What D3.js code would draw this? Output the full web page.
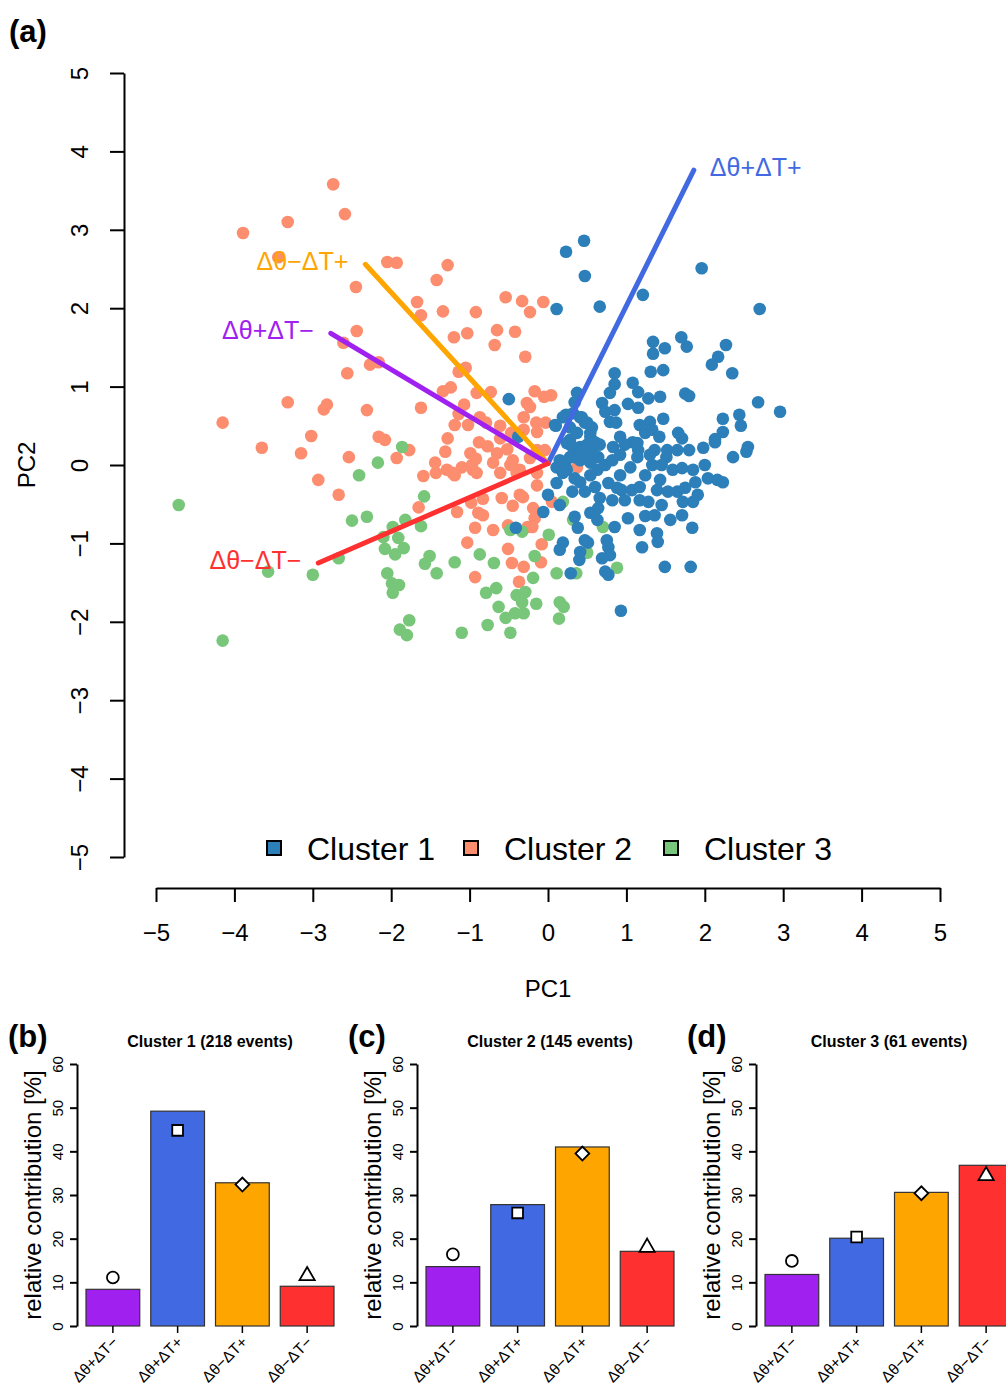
<!DOCTYPE html>
<html>
<head>
<meta charset="utf-8">
<script src="https://cdn.jsdelivr.net/npm/d3@7"></script>
<style>
  body { margin: 0; background: #fff; }
  text { font-family: "Liberation Sans", Arial, Helvetica, sans-serif; }
</style>
</head>
<body>
<div id="chart"></div>
<script>
// ---- data ----
const clusterNames = ["Cluster 1", "Cluster 2", "Cluster 3"];
const clusterColors = ["#2c7fb8", "#fc8d6f", "#78c679"];

// PC1 / PC2 scores per cluster
const cluster1Pts = [
  [0.46,2.86],[0.23,2.72],[0.47,2.41],[0.11,1.99],[0.66,2.02],[1.21,2.17],[1.96,2.51],[2.70,1.99],
  [1.34,1.57],[1.34,1.42],[1.49,1.49],[1.70,1.63],[1.77,1.51],[2.27,1.53],[2.09,1.28],[2.17,1.38],
  [2.35,1.17],[1.31,1.19],[1.47,1.21],[0.85,1.17],[0.85,1.03],[0.79,0.92],[1.08,1.05],[1.15,0.93],
  [1.28,0.85],[1.43,0.87],[1.75,0.91],[1.80,0.88],[2.68,0.80],[2.96,0.68],[0.37,0.92],[0.34,0.80],
  [0.69,0.79],[0.73,0.68],[0.85,0.70],[0.79,0.55],[0.87,0.54],[1.02,0.78],[1.15,0.73],[0.23,0.64],
  [0.41,0.61],[0.47,0.54],[0.10,0.50],[1.47,0.59],[2.23,0.59],[2.44,0.64],[2.46,0.50],[2.23,0.42],
  [2.13,0.33],[1.30,0.55],[1.17,0.51],[1.24,0.41],[1.33,0.45],[1.66,0.41],[1.71,0.34],[1.42,0.36],
  [0.28,0.32],[0.37,0.41],[0.54,0.41],[0.41,0.23],[0.83,0.23],[0.92,0.36],[1.08,0.29],[1.15,0.19],
  [1.36,0.19],[1.52,0.19],[1.65,0.19],[1.80,0.19],[1.98,0.22],[2.55,0.23],[2.53,0.17],[2.36,0.10],
  [0.28,0.26],[0.50,0.26],[0.34,0.10],[0.54,0.13],[0.64,0.10],[0.22,0.03],[0.19,-0.10],[0.98,0.26],
  [1.14,0.28],[0.92,0.13],[1.14,0.10],[1.05,-0.03],[0.92,-0.13],[0.77,-0.23],[0.88,-0.29],[1.51,0.10],
  [2.13,0.29],[1.33,0.00],[1.45,0.00],[1.59,-0.06],[1.71,-0.04],[1.85,-0.06],[1.88,-0.22],[2.16,-0.19],
  [2.23,-0.22],[0.11,-0.23],[0.31,-0.34],[0.41,-0.22],[0.47,-0.34],[0.60,-0.28],[0.66,-0.42],[0.94,-0.32],
  [1.07,-0.32],[1.17,-0.28],[0.98,-0.45],[1.17,-0.45],[1.39,-0.32],[1.53,-0.34],[1.65,-0.34],[1.75,-0.29],
  [1.72,-0.47],[1.85,-0.47],[1.91,-0.38],[1.28,-0.47],[1.45,-0.51],[-0.06,-0.60],[0.34,-0.66],[0.54,-0.61],
  [0.64,-0.55],[0.63,-0.70],[0.85,-0.79],[1.02,-0.68],[1.24,-0.65],[0.38,-0.80],[1.17,-0.83],[1.39,-0.87],
  [1.40,-0.98],[1.20,-1.05],[1.84,-0.80],[1.71,-0.64],[0.19,-0.99],[0.15,-1.08],[0.41,-1.11],[0.51,-0.99],
  [0.47,-0.96],[0.75,-0.96],[0.77,-1.05],[0.79,-1.15],[0.69,-1.19],[0.40,-1.21],[0.73,-1.36],[0.77,-1.40],
  [0.29,-1.38],[1.49,-1.30],[1.82,-1.30],[0.93,-1.86],[-0.41,-0.80],[-0.50,0.84],[-0.38,0.36],[0.09,0.51],
  [0.19,0.61],[0.32,0.66],[0.43,0.61],[0.50,0.54],[0.56,0.48],[0.28,0.48],[0.54,0.36],[0.60,0.29],
  [0.24,0.28],[0.32,0.23],[0.45,0.19],[0.57,0.15],[0.15,0.06],[0.28,0.10],[0.41,0.06],[0.54,0.03],
  [0.63,-0.06],[0.11,-0.03],[0.24,-0.06],[0.73,0.00],[0.82,0.06],[1.24,-0.13],[1.43,-0.19],[2.00,0.00],
  [2.04,-0.17],[0.66,0.26],[1.30,0.13],[0.34,-0.17],[0.54,-0.13],[0.00,-0.38],[0.15,-0.51],[0.82,-0.45],
  [1.36,-0.64],[1.56,-0.70]
];
const cluster2Pts = [
  [-2.74,3.58],[-2.59,3.20],[-3.32,3.10],[-3.89,2.96],[-3.44,2.65],[-2.05,2.59],[-1.93,2.58],[-2.45,2.27],
  [-1.42,2.36],[-1.28,2.55],[-1.67,2.08],[-1.62,1.91],[-1.34,1.96],[-0.92,1.95],[-0.54,2.14],[-0.33,2.09],
  [-0.23,1.95],[-0.06,2.08],[-0.65,1.72],[-0.42,1.70],[-1.20,1.63],[-1.03,1.68],[-0.68,1.53],[-0.29,1.38],
  [-1.05,1.24],[-1.14,1.19],[-2.44,1.71],[-2.61,1.56],[-2.27,1.28],[-2.16,1.31],[-2.56,1.17],[-3.32,0.80],
  [-2.82,0.77],[-2.86,0.71],[-2.31,0.70],[-4.15,0.54],[-1.62,0.73],[-1.34,0.94],[-1.24,0.99],[-1.07,0.77],
  [-0.91,0.92],[-0.73,0.93],[-0.17,0.94],[-0.05,0.87],[0.04,0.89],[-0.27,0.79],[-0.23,0.74],[-1.14,0.65],
  [-0.87,0.61],[-1.19,0.51],[-1.02,0.51],[-0.79,0.54],[-0.61,0.50],[-0.31,0.61],[-0.15,0.54],[-0.03,0.54],
  [-1.28,0.34],[-0.88,0.29],[-0.77,0.24],[-0.61,0.34],[-0.47,0.41],[-0.31,0.45],[-0.14,0.42],[-1.31,0.17],
  [-0.99,0.15],[-0.92,0.08],[-0.65,0.15],[-0.52,0.20],[-0.45,0.06],[-0.23,0.09],[-1.44,0.03],[-1.59,-0.14],
  [-1.43,-0.10],[-1.22,-0.10],[-0.96,-0.06],[-0.70,0.03],[-0.61,-0.10],[-0.36,-0.06],[-0.14,-0.10],[0.37,-0.03],
  [-1.10,-0.03],[-1.29,-0.06],[-1.19,-0.13],[-0.97,0.00],[-0.91,-0.10],[-0.48,0.00],[-0.40,-0.10],[-0.14,-0.26],
  [-1.16,-0.60],[-1.65,-0.54],[-0.98,-0.48],[-0.83,-0.43],[-0.89,-0.61],[-0.83,-0.64],[-0.59,-0.42],[-0.45,-0.52],
  [-0.36,-0.38],[-0.32,-0.41],[-0.19,-0.55],[-0.17,-0.68],[0.05,-0.47],[-0.93,-0.80],[-0.70,-0.83],[-0.51,-0.77],
  [-0.26,-0.79],[-1.03,-0.99],[-0.51,-1.07],[-0.08,-1.01],[-0.46,-1.25],[-0.31,-1.30],[-0.09,-1.24],[-0.93,-1.43],
  [-0.37,-1.49],[-3.02,0.37],[-3.65,0.22],[-3.15,0.15],[-2.54,0.10],[-2.16,0.36],[-2.08,0.32],[-1.93,0.09],
  [-2.93,-0.19],[-2.67,-0.38],[-1.77,0.19],[-0.14,0.19],[-0.04,0.19],[-0.20,-0.79]
];
const cluster3Pts = [
  [-4.71,-0.51],[-4.15,-2.24],[-3.57,-1.36],[-3.00,-1.40],[-2.67,-1.19],[-2.50,-0.71],[-2.31,-0.66],[-2.41,-0.13],
  [-2.17,0.03],[-1.86,0.23],[-2.10,-0.92],[-1.98,-0.79],[-1.82,-0.70],[-1.91,-0.93],[-2.08,-1.07],[-1.95,-1.14],
  [-1.84,-1.06],[-2.05,-1.38],[-1.99,-1.51],[-1.90,-1.53],[-1.98,-1.63],[-1.77,-1.98],[-1.89,-2.10],[-1.80,-2.17],
  [-1.58,-0.40],[-1.62,-0.78],[-1.51,-1.16],[-1.57,-1.26],[-1.42,-1.38],[-1.19,-1.24],[-0.87,-1.14],[-0.69,-1.25],
  [-0.48,-0.83],[-0.33,-0.85],[0.01,-0.89],[-0.17,-1.16],[0.11,-1.38],[-0.19,-1.44],[-0.79,-1.63],[-0.66,-1.57],
  [-0.63,-1.81],[-0.54,-1.95],[-0.40,-1.66],[-0.29,-1.62],[-0.33,-1.75],[-0.42,-1.89],[-0.31,-1.89],[-0.15,-1.77],
  [0.15,-1.75],[0.20,-1.81],[0.14,-1.96],[-0.77,-2.04],[-0.48,-2.14],[-1.10,-2.14],[0.19,-0.47],[0.32,-0.70],
  [0.70,-0.79],[0.50,-1.12],[0.36,-1.38],[0.88,-1.31]
];

// loading vectors
const loadingNames = ["Δθ+ΔT+", "Δθ−ΔT+", "Δθ+ΔT−", "Δθ−ΔT−"];
const loadingPC1 = [1.86, -2.33, -2.77, -2.93];
const loadingPC2 = [3.76, 2.56, 1.68, -1.25];
const loadingColors = ["#4169e1", "#ffa500", "#a020f0", "#ff3030"];

const axisTicks = [-5, -4, -3, -2, -1, 0, 1, 2, 3, 4, 5];

// bar panels
const barCategories = ["Δθ+ΔT−", "Δθ+ΔT+", "Δθ−ΔT+", "Δθ−ΔT−"];
const barColors = ["#a020f0", "#4169e1", "#ffa500", "#ff3030"];
const panelTitles = ["Cluster 1 (218 events)", "Cluster 2 (145 events)", "Cluster 3 (61 events)"];
const panelLetters = ["(b)", "(c)", "(d)"];
const barValues1 = [8.4, 49.2, 32.8, 9.1];
const barValues2 = [13.6, 27.8, 41.0, 17.1];
const barValues3 = [11.8, 20.1, 30.6, 36.8];
const markerValues1 = [11.1, 44.8, 32.4, 11.5];
const markerValues2 = [16.4, 25.9, 39.5, 18.0];
const markerValues3 = [14.9, 20.4, 30.4, 34.4];
const barTicks = [0, 10, 20, 30, 40, 50, 60];

const minus = d => d < 0 ? "\u2212" + Math.abs(d) : String(d);

const W = 1006, H = 1386;
const svg = d3.select("#chart").append("svg")
  .attr("width", W).attr("height", H);

// ---------- panel (a): PCA biplot ----------
const x = d3.scaleLinear().domain([-5, 5]).range([156, 940]);
const y = d3.scaleLinear().domain([-5, 5]).range([857, 73]);

svg.append("text").attr("x", 9).attr("y", 42)
  .attr("font-size", 31).attr("font-weight", "bold").text("(a)");

// y axis
const gy = svg.append("g").attr("transform", "translate(124,0)")
  .call(d3.axisLeft(y).tickValues(axisTicks).tickSize(14).tickSizeOuter(0).tickFormat(minus));
gy.selectAll("text")
  .attr("x", null).attr("dy", null)
  .attr("transform", "translate(-36,0) rotate(-90)")
  .attr("text-anchor", "middle").attr("font-size", 24).attr("fill", "#000");

// x axis
const gx = svg.append("g").attr("transform", "translate(0,888)")
  .call(d3.axisBottom(x).tickValues(axisTicks).tickSize(14).tickSizeOuter(0).tickFormat(minus));
gx.selectAll("text").attr("y", 53).attr("dy", null)
  .attr("font-size", 24).attr("fill", "#000");

[gx, gy].forEach(g => {
  g.selectAll("path, line").attr("stroke", "#000").attr("stroke-width", 2);
  g.selectAll("text").attr("font-family", "Liberation Sans, Arial, sans-serif");
});

svg.append("text").attr("x", 548).attr("y", 997)
  .attr("text-anchor", "middle").attr("font-size", 24).text("PC1");
svg.append("text").attr("transform", "translate(35,465) rotate(-90)")
  .attr("text-anchor", "middle").attr("font-size", 24).text("PC2");

// points: cluster 2, cluster 3, then cluster 1 on top
const ptGroups = [[cluster2Pts, 1], [cluster3Pts, 2], [cluster1Pts, 0]];
ptGroups.forEach(([pts, ci]) => {
  svg.append("g").selectAll("circle")
    .data(pts).enter().append("circle")
    .attr("cx", d => x(d[0]))
    .attr("cy", d => y(d[1]))
    .attr("r", 6.3)
    .attr("fill", clusterColors[ci]);
});

// loading arrows
const loadings = loadingNames.map((n, i) => ({ name: n, pc1: loadingPC1[i], pc2: loadingPC2[i], color: loadingColors[i] }));
svg.append("g").selectAll("line")
  .data(loadings).enter().append("line")
  .attr("x1", x(0)).attr("y1", y(0.02))
  .attr("x2", d => x(d.pc1)).attr("y2", d => y(d.pc2))
  .attr("stroke", d => d.color).attr("stroke-width", 5)
  .attr("stroke-linecap", "round");
svg.append("g").selectAll("text")
  .data(loadings).enter().append("text")
  .attr("x", d => x(d.pc1) + (d.pc1 > 0 ? 16 : -17))
  .attr("y", d => y(d.pc2) - 3)
  .attr("dy", "0.35em")
  .attr("text-anchor", d => d.pc1 > 0 ? "start" : "end")
  .attr("font-size", 25)
  .attr("fill", d => d.color)
  .text(d => d.name);

// legend
const legendX = [274, 471, 671];
const legend = svg.append("g").selectAll("g")
  .data(clusterNames).enter().append("g")
  .attr("transform", (d, i) => `translate(${legendX[i]},848)`);
legend.append("rect").attr("x", -7).attr("y", -7).attr("width", 14).attr("height", 14)
  .attr("fill", (d, i) => clusterColors[i]).attr("stroke", "#000").attr("stroke-width", 2);
legend.append("text").attr("x", 33).attr("y", 12)
  .attr("font-size", 32).text(d => d);

// ---------- panels (b)-(d): bar charts ----------
const barSets = [barValues1, barValues2, barValues3];
const markerSets = [markerValues1, markerValues2, markerValues3];
const panelOffsets = [0, 340, 679];
// circle, square, diamond (rotated square), triangle
const markerTypes = [d3.symbolCircle, d3.symbolSquare, d3.symbolSquare, d3.symbolTriangle];
const markerSizes = [110, 115, 95, 100];
const markerRotate = [0, 0, 45, 0];

const xb = d3.scaleBand().domain(barCategories).range([86, 334]).paddingInner(0.17).paddingOuter(0);
const yb = d3.scaleLinear().domain([0, 60]).range([1326, 1064]);

barSets.forEach((vals, p) => {
  const g = svg.append("g").attr("transform", `translate(${panelOffsets[p]},0)`);

  g.append("text").attr("x", 8).attr("y", 1047)
    .attr("font-size", 31).attr("font-weight", "bold").text(panelLetters[p]);
  g.append("text").attr("x", 210).attr("y", 1047)
    .attr("text-anchor", "middle").attr("font-size", 16).attr("font-weight", "bold")
    .text(panelTitles[p]);

  g.selectAll("rect.bar")
    .data(vals).enter().append("rect").attr("class", "bar")
    .attr("x", (d, i) => xb(barCategories[i]))
    .attr("width", xb.bandwidth())
    .attr("y", d => yb(d))
    .attr("height", d => yb(0) - yb(d))
    .attr("fill", (d, i) => barColors[i])
    .attr("stroke", "#333").attr("stroke-width", 1.2);

  g.selectAll("path.mk")
    .data(markerSets[p]).enter().append("path").attr("class", "mk")
    .attr("transform", (d, i) => `translate(${xb(barCategories[i]) + xb.bandwidth() / 2},${yb(d)}) rotate(${markerRotate[i]})`)
    .attr("d", (d, i) => d3.symbol().type(markerTypes[i]).size(markerSizes[i])())
    .attr("fill", "#fff").attr("stroke", "#000").attr("stroke-width", 1.8);

  const ay = g.append("g").attr("transform", "translate(77,0)")
    .call(d3.axisLeft(yb).tickValues(barTicks).tickSize(7).tickSizeOuter(0));
  ay.selectAll("path, line").attr("stroke", "#000").attr("stroke-width", 2);
  ay.selectAll("text").attr("x", null).attr("dy", null)
    .attr("transform", "translate(-14,0) rotate(-90)")
    .attr("text-anchor", "middle").attr("font-size", 15).attr("fill", "#000")
    .attr("font-family", "Liberation Sans, Arial, sans-serif");

  const ax = g.append("g").attr("transform", "translate(0,1326)")
    .call(d3.axisBottom(xb).tickSize(7).tickSizeOuter(0));
  ax.select(".domain").remove();
  ax.selectAll("line").attr("stroke", "#000").attr("stroke-width", 1.5);
  ax.selectAll("text").attr("y", null).attr("dy", null)
    .attr("transform", "translate(6,17) rotate(-45)")
    .attr("text-anchor", "end").attr("font-size", 15.5).attr("fill", "#000")
    .attr("font-family", "Liberation Sans, Arial, sans-serif");

  g.append("text").attr("transform", "translate(41,1195) rotate(-90)")
    .attr("text-anchor", "middle").attr("font-size", 24)
    .text("relative contribution [%]");
});
</script>
</body>
</html>
